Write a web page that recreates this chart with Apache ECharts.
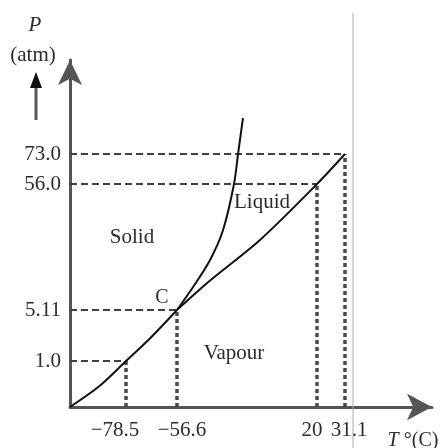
<!DOCTYPE html>
<html><head><meta charset="utf-8">
<script src="https://cdn.jsdelivr.net/npm/echarts@6/dist/echarts.min.js"></script>
<style>html,body{margin:0;padding:0;background:#fff}#c{width:445px;height:448px}</style>
</head><body><div id="c"></div>
<script>
// ---- data ----
const tempTicks = [-78.5, -56.6, 20, 31.1];
const tempTickLabels = ['−78.5', '−56.6', '20', '31.1'];
const pressTicks = [1.0, 5.11, 56.0, 73.0];
const pressTickLabels = ['1.0', '5.11', '56.0', '73.0'];
const triplePoint = [-56.6, 5.11];
const criticalPoint = [31.1, 73.0];
const sublimationT = [-102.5, -90, -78.5, -67.8, -56.6];
const sublimationP = [0, 0.45, 1.0, 2.9, 5.11];
const vaporT = [-56.6, -38.5, -11.2, 20, 31.1];
const vaporP = [5.11, 17.0, 33.4, 56.0, 73.0];
const fusionT = [-56.6, -47.8, -38.5, -31.4, -25.4, -23.2, -20.5];
const fusionP = [5.11, 14.4, 25.3, 37.4, 56.0, 73.0, 93.4];
const regionNames = ['Solid', 'Liquid', 'Vapour', 'C'];
const axisNames = ['P', '(atm)', 'T', ' °(C)'];

// ---- schematic (not to scale) axes: piecewise-linear scales ----
const xScale = { from: [-102.5, -78.5, -56.6, 20, 31.1], to: [0, 56, 107, 247, 275] };
const yScale = { from: [0, 1.0, 5.11, 56.0, 73.0], to: [0, 46, 97, 223, 253] };
function piece(s, v) {
  const f = s.from, t = s.to, n = f.length;
  let i = 0;
  if (v <= f[0]) i = 0; else if (v >= f[n - 1]) i = n - 2; else { while (v > f[i + 1]) i++; }
  return t[i] + (v - f[i]) * (t[i + 1] - t[i]) / (f[i + 1] - f[i]);
}
const sx = v => piece(xScale, v);
const sy = v => piece(yScale, v);
const T0 = xScale.from[0];

const serif = 'Liberation Serif';
const ink = '#2b2b2b';
const axisCol = '#555';

function curve(Ts, Ps) { return Ts.map((t, i) => [sx(t), sy(Ps[i])]); }

const guideH = pressTicks.map((p, i) => [[sx(T0), sy(p)], [sx(tempTicks[i]), sy(p)]]);
const guideV = tempTicks.map((t, i) => [[sx(t), 0], [sx(t), sy(pressTicks[i])]]);

const xLabelShift = [-11, 5, -5, 4];
const xRich = {};
xLabelShift.forEach((s, i) => {
  xRich['l' + i] = { fontFamily: serif, fontSize: 21, color: ink,
    padding: s >= 0 ? [0, 0, 0, 2 * s] : [0, -2 * s, 0, 0] };
});

const series = [];
guideH.forEach(d => series.push({ type: 'line', data: d, showSymbol: false, silent: true,
  lineStyle: { color: '#404040', width: 2, type: [7, 4] }, z: 2 }));
guideV.forEach(d => series.push({ type: 'line', data: d, showSymbol: false, silent: true,
  lineStyle: { color: '#4a4a4a', width: 3.5, type: [4, 3] }, z: 2 }));
[[sublimationT, sublimationP], [vaporT, vaporP], [fusionT, fusionP]].forEach(c => series.push({
  type: 'line', data: curve(c[0], c[1]), showSymbol: false, smooth: 0.3, silent: true,
  lineStyle: { color: '#111', width: 2 }, z: 3 }));

const chart = echarts.init(document.getElementById('c'));
chart.setOption({
  animation: false,
  backgroundColor: '#fff',
  grid: { left: 70, top: 60, right: 13, bottom: 41 },
  xAxis: {
    type: 'value', min: 0, max: 362, splitLine: { show: false },
    axisLine: { lineStyle: { color: axisCol, width: 3 }, symbol: ['none', 'arrow'], symbolSize: [20, 25] },
    axisTick: { show: false },
    axisLabel: {
      customValues: tempTicks.map(sx), margin: 13,
      formatter: v => { const i = tempTicks.map(sx).findIndex(u => Math.abs(u - v) < 0.01); return i < 0 ? '' : '{l' + i + '|' + tempTickLabels[i] + '}'; },
      rich: xRich
    }
  },
  yAxis: {
    type: 'value', min: 0, max: 347, splitLine: { show: false },
    axisLine: { lineStyle: { color: axisCol, width: 3 }, symbol: ['none', 'arrow'], symbolSize: [18, 25] },
    axisTick: { show: false },
    axisLabel: {
      customValues: pressTicks.map(sy), margin: 9, fontFamily: serif, fontSize: 21, color: ink,
      formatter: v => { const i = pressTicks.map(sy).findIndex(u => Math.abs(u - v) < 0.01); return i < 0 ? '' : pressTickLabels[i]; }
    }
  },
  series: series,
  graphic: [
    { type: 'line', shape: { x1: 353, y1: 13, x2: 353, y2: 448 }, style: { stroke: '#aaa', lineWidth: 1 }, z: 1 },
    { type: 'line', shape: { x1: 36, y1: 120, x2: 36, y2: 85 }, style: { stroke: axisCol, lineWidth: 3 } },
    { type: 'polygon', shape: { points: [[36, 72], [30, 88], [42, 88]] }, style: { fill: '#111' } },
    { type: 'text', x: 35, y: 25, style: { text: axisNames[0], font: 'italic 21px ' + serif, fill: ink, align: 'center', verticalAlign: 'middle' } },
    { type: 'text', x: 33, y: 55, style: { text: axisNames[1], font: '21px ' + serif, fill: ink, align: 'center', verticalAlign: 'middle' } },
    { type: 'text', x: 132, y: 237, style: { text: regionNames[0], font: '21px ' + serif, fill: ink, align: 'center', verticalAlign: 'middle' } },
    { type: 'text', x: 262, y: 202, style: { text: regionNames[1], font: '21px ' + serif, fill: ink, align: 'center', verticalAlign: 'middle' } },
    { type: 'text', x: 234, y: 353, style: { text: regionNames[2], font: '21px ' + serif, fill: ink, align: 'center', verticalAlign: 'middle' } },
    { type: 'text', x: 162, y: 298, style: { text: regionNames[3], font: '20px ' + serif, fill: ink, align: 'center', verticalAlign: 'middle' } },
    { type: 'text', x: 413, y: 441, style: {
      text: '{i|' + axisNames[2] + '}{n|' + axisNames[3] + '}', align: 'center', verticalAlign: 'middle',
      rich: { i: { font: 'italic 20px ' + serif, fill: ink }, n: { font: '20px ' + serif, fill: ink } } } }
  ]
});
</script></body></html>
